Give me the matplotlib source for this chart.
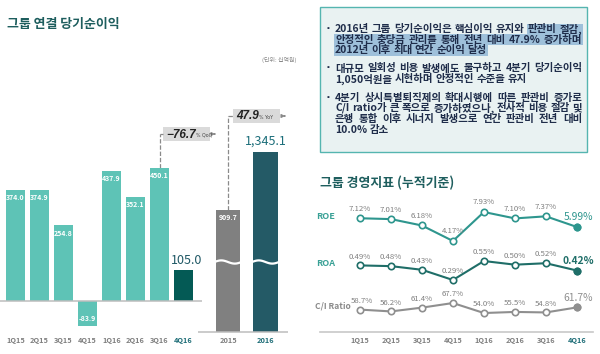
import matplotlib
matplotlib.use("Agg")
import numpy as np
import matplotlib.pyplot as plt
from matplotlib.patches import Rectangle, FancyArrowPatch
from matplotlib.lines import Line2D

plt.rcParams['font.family'] = ['Noto Sans CJK KR', 'DejaVu Sans']

W, H = 600, 354

# data
quarters = ['1Q15', '2Q15', '3Q15', '4Q15', '1Q16', '2Q16', '3Q16', '4Q16']
net_income_q = [374.0, 374.9, 254.8, -83.9, 437.9, 352.1, 450.1, 105.0]
years = ['2015', '2016']
net_income_y = [909.7, 1345.1]
roe = [7.12, 7.01, 6.18, 4.17, 7.93, 7.10, 7.37, 5.99]
roa = [0.49, 0.48, 0.43, 0.29, 0.55, 0.50, 0.52, 0.42]
ci_ratio = [58.7, 56.2, 61.4, 67.7, 54.0, 55.5, 54.8, 61.7]
qoq = -76.7
yoy = 47.9

bullets = [
    ["2016년 그룹 당기순이익은 핵심이익 유지와 판관비 절감,",
     "안정적인 충당금 관리를 통해 전년 대비 47.9% 증가하며",
     "2012년 이후 최대 연간 순이익 달성"],
    ["대규모 일회성 비용 발생에도 불구하고 4분기 당기순이익",
     "1,050억원을 시현하며 안정적인 수준을 유지"],
    ["4분기 상시특별퇴직제의 확대시행에 따른 판관비 증가로",
     "C/I ratio가 큰 폭으로 증가하였으나, 전사적 비용 절감 및",
     "은행 통합 이후 시너지 발생으로 연간 판관비 전년 대비",
     "10.0% 감소"],
]

TEAL = '#5EC3B6'
DARK = '#045A55'
GRAY = '#808080'
NAVY = '#245A66'
TITLE = '#1E5E5E'
TICK = '#808080'


def box(x, y, w, h):
    return [x / W, 1 - (y + h) / H, w / W, h / H]


def fx(x):
    return x / W


def fy(y):
    return 1 - y / H


fig = plt.figure(figsize=(6, 3.54), dpi=100)
r = fig.canvas.get_renderer()


def data_y(ax, py):
    return ax.transData.inverted().transform((0, H - py))[1]


def text_w(s, **kw):
    t = fig.text(0, 0, s, **kw)
    w = t.get_window_extent(r).width
    t.remove()
    return w


# ---- quarterly net income ----
ax1 = fig.add_axes(box(0, 100, 202, 234))
s1 = 0.2965
ax1.set_xlim(-0.65, 7.77)
ax1.set_ylim(-(334 - 301) / s1, (301 - 100) / s1)
cols = [TEAL] * 7 + [DARK]
ax1.bar(range(8), net_income_q, width=0.81, color=cols, zorder=2)
ax1.axhline(0, color='#BDBDBD', lw=1.1, zorder=3)
for i, v in enumerate(net_income_q[:-1]):
    if v >= 0:
        ax1.annotate(f"{v:.1f}", (i, v), xytext=(0, -3), textcoords='offset points',
                     ha='center', va='top', fontsize=5, color='white', weight='bold')
    else:
        ax1.annotate(f"{v:.1f}", (i, v), xytext=(0, 3), textcoords='offset points',
                     ha='center', va='bottom', fontsize=5, color='white', weight='bold')
ax1.annotate(f"{net_income_q[-1]:.1f}", (7, net_income_q[-1]), xytext=(2, 2),
             textcoords='offset points', ha='center', va='bottom', fontsize=9,
             color='#1F5865')
ax1.set_xticks(range(8))
ax1.set_xticklabels(quarters, fontsize=5.3, color=TICK, weight='bold')
ax1.get_xticklabels()[-1].set_color('#1F6E78')
ax1.tick_params(length=0, pad=2)
ax1.set_yticks([])
for sp in ax1.spines.values():
    sp.set_visible(False)
ax1.patch.set_alpha(0)

# ---- annual net income ----
ax2 = fig.add_axes(box(198, 100, 90, 234))
s2 = 0.134
ax2.set_xlim(-0.8, 1.6)
ax2.set_ylim(-(334 - 332) / s2, (332 - 100) / s2)
ax2.bar(range(2), net_income_y, width=0.66, color=[GRAY, NAVY], zorder=2)
ax2.axhline(0, color='#BDBDBD', lw=1.1, zorder=3)
brk = data_y(ax2, 262)
amp = 1.6 / s2
for i in range(2):
    t = np.linspace(0, 1, 60)
    ax2.plot(i - 0.36 + 0.72 * t, brk + amp * np.sin(2 * np.pi * t), color='white',
             lw=1.6, zorder=4)
ax2.annotate(f"{net_income_y[0]:.1f}", (0, net_income_y[0]), xytext=(0, -3),
             textcoords='offset points', ha='center', va='top', fontsize=5,
             color='white', weight='bold')
ax2.annotate(f"{net_income_y[1]:,.1f}", (1, net_income_y[1]), xytext=(0, 3),
             textcoords='offset points', ha='center', va='bottom', fontsize=9,
             color='#1C6E7A')
ax2.set_xticks(range(2))
ax2.set_xticklabels(years, fontsize=5.3, color=TICK, weight='bold')
ax2.get_xticklabels()[-1].set_color('#1F6E78')
ax2.tick_params(length=0, pad=2)
ax2.set_yticks([])
for sp in ax2.spines.values():
    sp.set_visible(False)
ax2.patch.set_alpha(0)

# ---- growth call-outs ----
dash = (0, (3.5, 1.5))


def callout(ax, xi, top, py, bx, bw, val, suffix):
    lvl = data_y(ax, py)
    ax.plot([xi, xi], [top, lvl], color='#8A8A8A', lw=0.9, ls=dash, zorder=1,
            clip_on=False)
    x_px = ax.transData.transform((xi, 0))[0]
    fig.add_artist(Line2D([fx(x_px), fx(bx)], [fy(py), fy(py)], color='#8A8A8A',
                          lw=0.9, ls=dash))
    fig.add_artist(Rectangle((fx(bx), fy(py + 7)), bw / W, 14 / H, color='#DADADA',
                             lw=0, zorder=1))
    num = f"{val:.1f}".replace('-', '\u2212')
    kw = dict(fontsize=8.5, weight='bold', style='italic', family='Liberation Sans',
              color='#222222')
    fig.text(fx(bx + 3), fy(py + 0.5), num, va='center', ha='left', **kw)
    nw = text_w(num, **kw)
    fig.text(fx(bx + 3 + nw + 0.5), fy(py + 1.5), suffix, va='center', ha='left',
             fontsize=3.4, color='#444444', family='DejaVu Sans')
    fig.add_artist(FancyArrowPatch((fx(bx + bw + 2), fy(py)), (fx(bx + bw + 8), fy(py)),
                                   transform=fig.transFigure, arrowstyle='-|>',
                                   mutation_scale=5, color='#8A8A8A', lw=0.9))


callout(ax1, 6, net_income_q[6], 134, 163, 47, qoq, '% QoQ')
callout(ax2, 0, net_income_y[0], 116, 233, 47, yoy, '% YoY')

# ---- titles ----
fig.text(fx(7), fy(24), "그룹 연결 당기순이익", fontsize=9.3, weight='bold',
         color=TITLE, va='center', ha='left')
fig.text(fx(296), fy(60), "(단위: 십억원)", fontsize=4.3, color='#888888',
         va='center', ha='right')
fig.text(fx(320), fy(183), "그룹 경영지표 (누적기준)", fontsize=9.3, weight='bold',
         color=TITLE, va='center', ha='left')

# ---- comment box ----
fig.add_artist(Rectangle((fx(320), fy(152)), 267 / W, 145 / H, facecolor='#E9F2F2',
                         edgecolor='#55B5B0', lw=1, zorder=0.5))
X0, X1 = 335, 582
# pick a font size so the widest line fills the column with ordinary spacing
probe = dict(fontsize=10, weight='bold')
widest = max(text_w(l, **probe) for lines in bullets for l in lines)
FS = 10 * (X1 - X0 - 4) / widest
tkw = dict(fontsize=FS, weight='bold', color='#1F2D4A')
LH = 10.7
starts = [29, 68.5, 97.5]
HL = '#9EC0DA'
sp_w = text_w("a b", **tkw) - text_w("ab", **tkw)

for b, (lines, y0) in enumerate(zip(bullets, starts)):
    fig.text(fx(328), fy(y0), "▪", fontsize=5, color='#1F2D4A', va='center', ha='center')
    for j, line in enumerate(lines):
        y = y0 + j * LH
        words = line.split(' ')
        ws = [text_w(w, **tkw) for w in words]
        last = j == len(lines) - 1
        gap = sp_w if last else (X1 - X0 - sum(ws)) / (len(words) - 1)
        x = X0
        pos = []
        for w, wd in zip(words, ws):
            fig.text(fx(x), fy(y), w, va='center', ha='left', zorder=3, **tkw)
            pos.append((x, x + wd))
            x += wd + gap
        if b == 0:
            if j == 0:
                hx0, hx1 = pos[-2][0] - 1, pos[-1][1] + 1
            elif j == 1:
                hx0, hx1 = X0 - 1, X1 + 1
            else:
                hx0, hx1 = X0 - 1, pos[-1][1] + 1
            fig.add_artist(Rectangle((fx(hx0), fy(y + LH / 2)), (hx1 - hx0) / W, LH / H,
                                     facecolor=HL, lw=0, zorder=1))

# ---- ratio lines ----
xl = (-1.29, 7.52)
xs = np.arange(8)


def ratio_axes(rect, ylim):
    ax = fig.add_axes(rect)
    ax.set_xlim(*xl)
    ax.set_ylim(*ylim)
    ax.set_yticks([])
    ax.set_xticks([])
    for sp in ax.spines.values():
        sp.set_visible(False)
    ax.patch.set_alpha(0)
    return ax


ax_roe = ratio_axes(box(320, 205, 273, 43), (3.26, 8.84))
ax_roa = ratio_axes(box(320, 255, 273, 30), (0.2215, 0.6326))
ax_ci = ratio_axes(box(320, 295, 273, 37), (28.0, 78.7))


def draw_series(ax, vals, color, fmt, last_color, last_bold, off, first_dx=0):
    ax.plot(xs, vals, color=color, lw=1.5, marker='o', ms=4.6, mfc='white', mec=color,
            mew=1.2, clip_on=False, zorder=3)
    ax.plot(xs[-1], vals[-1], marker='o', ms=4.6, color=color, clip_on=False, zorder=4)
    for i, v in enumerate(vals[:-1]):
        ax.annotate(fmt.format(v), (i, v), xytext=(first_dx if i == 0 else 0, off),
                    textcoords='offset points', ha='center', va='bottom', fontsize=5.6,
                    color='#7F7F7F')
    ax.annotate(fmt.format(vals[-1]), (7, vals[-1]), xytext=(1, off - 0.5),
                textcoords='offset points', ha='center', va='bottom', fontsize=7.4,
                color=last_color, weight='bold' if last_bold else 'normal')


draw_series(ax_roe, roe, '#2E968E', "{:.2f}%", '#2E968E', False, 4)
draw_series(ax_roa, roa, '#1F6E68', "{:.2f}%", '#1F6E68', True, 3.5)
draw_series(ax_ci, ci_ratio, '#8F8F8F', "{:.1f}%", '#8F8F8F', False, 3.5, first_dx=1.5)

fig.text(fx(316), fy(217), "ROE", fontsize=6.5, weight='bold', color='#3AA196',
         va='center', ha='left')
fig.text(fx(316), fy(264), "ROA", fontsize=6.5, weight='bold', color='#3AA196',
         va='center', ha='left')
fig.text(fx(315), fy(306), "C/I Ratio", fontsize=6.1, weight='bold', color='#8A8A8A',
         va='center', ha='left')

ax_ci.spines['bottom'].set_visible(True)
ax_ci.spines['bottom'].set_color('#C8C8C8')
ax_ci.spines['bottom'].set_linewidth(1.2)
ax_ci.set_xticks(xs)
ax_ci.set_xticklabels(quarters, fontsize=5.3, color=TICK, weight='bold')
ax_ci.get_xticklabels()[-1].set_color('#1F6E78')
ax_ci.tick_params(length=0, pad=3.5)

fig.savefig("out.png", dpi=100)
